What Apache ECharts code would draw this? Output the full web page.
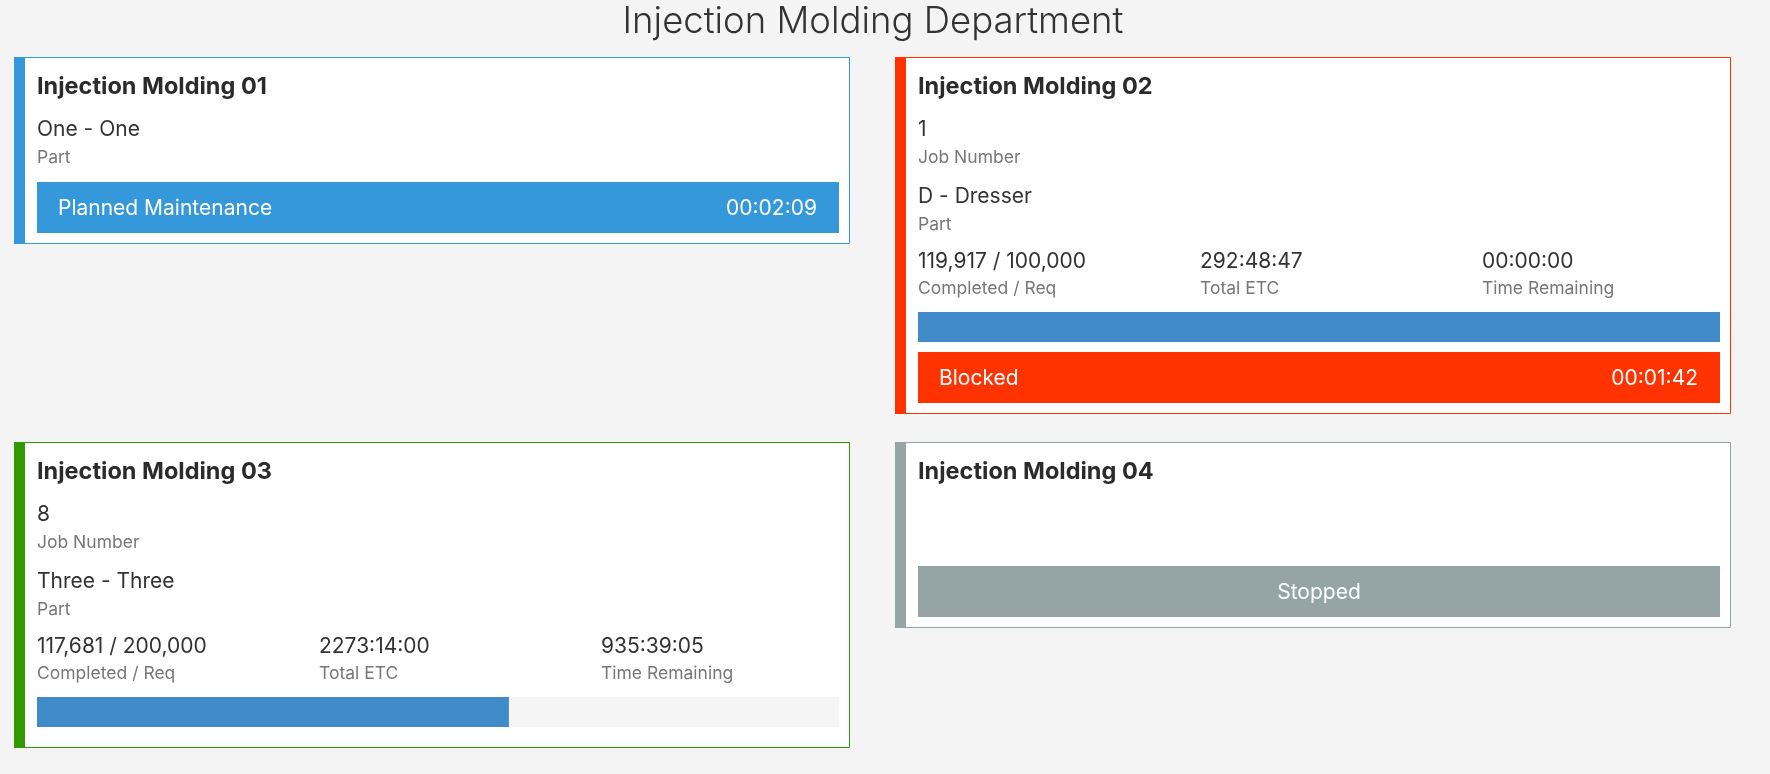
<!DOCTYPE html>
<html><head><meta charset="utf-8">
<script src="https://cdn.jsdelivr.net/npm/echarts@6/dist/echarts.min.js"></script>
<style>html,body{margin:0;padding:0;background:#f4f4f4;overflow:hidden;} #c{width:1770px;height:774px;}</style>
</head><body><div id="c"></div>
<script>
// ---- data ----
const pageTitle = 'Injection Molding Department';
const machines = ['Injection Molding 01', 'Injection Molding 02', 'Injection Molding 03', 'Injection Molding 04'];
const machineStates = ['maintenance', 'blocked', 'running', 'stopped'];
const statusTexts = ['Planned Maintenance', 'Blocked', '', 'Stopped'];
const statusDurations = ['00:02:09', '00:01:42', '', ''];
const jobNumbers = ['', '1', '8', ''];
const parts = ['One - One', 'D - Dresser', 'Three - Three', ''];
const completed = [null, 119917, 117681, null];
const required = [null, 100000, 200000, null];
const totalETC = ['', '292:48:47', '2273:14:00', ''];
const timeRemaining = ['', '00:00:00', '935:39:05', ''];
const fieldLabels = { job: 'Job Number', part: 'Part', comp: 'Completed / Req', etc: 'Total ETC', rem: 'Time Remaining' };

// ---- styles / layout ----
const stateColors = { maintenance: '#3498db', blocked: '#ff3300', running: '#339900', stopped: '#95a5a6' };
const FONT = 'Inter, "Noto Sans", sans-serif';
const cardX = [14, 895, 14, 895];
const cardY = [57, 57, 442, 442];
const CARD_W = 836, BAR_W = 11, PAD_L = 23, INNER_W = 802, COL_W = 282;
const F_TITLE = 23.5, F_VAL = 21, F_LAB = 17.5, F_STAT = 21;

function fmt(n) { return n.toLocaleString('en-US'); }
function txt(x, y, text, size, color, weight, align) {
  return { type: 'text', x: x, y: y, silent: true, style: {
    text: text, fill: color, fontSize: size, fontFamily: FONT, fontWeight: weight || 400,
    textAlign: align || 'left', textVerticalAlign: 'middle' } };
}

const graphics = [];
const grids = [], xAxes = [], yAxes = [], series = [];
graphics.push(txt(873, 22, pageTitle, 36.5, '#333', 300, 'center'));

machines.forEach(function (name, i) {
  const x0 = cardX[i], y0 = cardY[i], col = stateColors[machineStates[i]];
  const ix = x0 + PAD_L;
  const inner = [];
  inner.push(txt(ix, y0 + 30, name, F_TITLE, '#2b2b2b', 700));
  let y = 57;
  let any = false;
  if (jobNumbers[i]) {
    inner.push(txt(ix, y0 + y + 16, jobNumbers[i], F_VAL, '#333'));
    inner.push(txt(ix, y0 + y + 44, fieldLabels.job, F_LAB, '#777'));
    y += 67; any = true;
  }
  if (parts[i]) {
    inner.push(txt(ix, y0 + y + 16, parts[i], F_VAL, '#333'));
    inner.push(txt(ix, y0 + y + 44, fieldLabels.part, F_LAB, '#777'));
    y += 67; any = true;
  }
  if (!any) y += 66;
  let hasProg = false;
  if (completed[i] != null) {
    const vals = [fmt(completed[i]) + ' / ' + fmt(required[i]), totalETC[i], timeRemaining[i]];
    const labs = [fieldLabels.comp, fieldLabels.etc, fieldLabels.rem];
    for (let k = 0; k < 3; k++) {
      inner.push(txt(ix + k * COL_W, y0 + y + 13.5, vals[k], F_VAL, '#333'));
      inner.push(txt(ix + k * COL_W, y0 + y + 41, labs[k], F_LAB, '#777'));
    }
    y += 64;
    const g = grids.length;
    grids.push({ left: ix, top: y0 + y, width: INNER_W, height: 30 });
    xAxes.push({ type: 'value', gridIndex: g, min: 0, max: required[i], show: false });
    yAxes.push({ type: 'category', gridIndex: g, data: [name], show: false });
    series.push({ type: 'bar', xAxisIndex: g, yAxisIndex: g, silent: true, animation: false,
      data: [Math.min(completed[i], required[i])], barWidth: 30,
      showBackground: true, backgroundStyle: { color: '#f5f5f5' },
      itemStyle: { color: '#428bca' } });
    y += 30; hasProg = true;
  }
  if (statusTexts[i]) {
    y += hasProg ? 10 : 1;
    inner.push({ type: 'rect', silent: true, shape: { x: ix, y: y0 + y, width: INNER_W, height: 51 }, style: { fill: col } });
    if (statusDurations[i]) {
      inner.push(txt(ix + 21, y0 + y + 26.5, statusTexts[i], F_STAT, '#fff'));
      inner.push(txt(ix + INNER_W - 22, y0 + y + 26.5, statusDurations[i], F_STAT, '#fff', 400, 'right'));
    } else {
      inner.push(txt(ix + INNER_W / 2, y0 + y + 26.5, statusTexts[i], F_STAT, '#fff', 400, 'center'));
    }
    y += 51 + 11;
  } else {
    y += 21;
  }
  const h = y;
  graphics.push({ type: 'rect', silent: true, shape: { x: x0 + 0.5, y: y0 + 0.5, width: CARD_W - 1, height: h - 1 },
    style: { fill: '#fff', stroke: col, lineWidth: 1 } });
  graphics.push({ type: 'rect', silent: true, shape: { x: x0, y: y0, width: BAR_W, height: h }, style: { fill: col } });
  inner.forEach(function (e) { graphics.push(e); });
});

const chart = echarts.init(document.getElementById('c'), null, { renderer: 'canvas' });
chart.setOption({
  backgroundColor: '#f4f4f4',
  animation: false,
  graphic: { elements: graphics },
  grid: grids, xAxis: xAxes, yAxis: yAxes, series: series
});
</script></body></html>
